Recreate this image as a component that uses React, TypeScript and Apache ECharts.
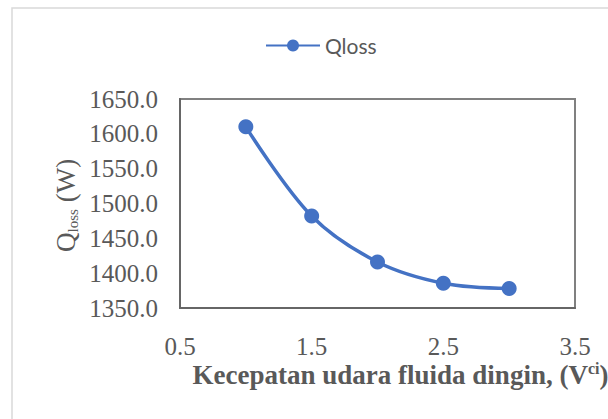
import React, { useEffect, useRef } from "react";
import * as echarts from "echarts";

const velocities = [1, 1.5, 2, 2.5, 3];
const qLoss = [1610, 1482, 1416, 1385.5, 1378];
const xTickLabels = [0.5, 1.5, 2.5, 3.5];
const seriesName = "Qloss";
const yTitleMain = "Q";
const yTitleSub = "loss";
const yTitleUnit = " (W)";

export default function App() {
  const ref = useRef<HTMLDivElement>(null);
  useEffect(() => {
    document.body.style.margin = "0";
    document.body.style.overflow = "hidden";
    document.documentElement.style.overflow = "hidden";
    const chart = echarts.init(ref.current!, null, { renderer: "svg" });
    const data = velocities.map((v, i) => [v, qLoss[i]]);
    const serif = "Liberation Serif";
    const grey = "#595959";
    chart.setOption({
      animation: false,
      backgroundColor: "#ffffff",
      graphic: [
        {
          type: "rect",
          shape: { x: 12, y: 8, width: 800, height: 600 },
          style: { fill: "none", stroke: "#d9d9d9", lineWidth: 1.5 },
          silent: true,
          z: -1,
        },
        {
          type: "group",
          x: 79,
          y: 252,
          rotation: Math.PI / 2,
          silent: true,
          children: [
            {
              type: "text",
              x: 0,
              y: 0,
              style: { text: yTitleMain, fontFamily: serif, fontSize: 27, fill: grey, align: "left", verticalAlign: "bottom" },
            },
            {
              type: "text",
              x: 19.5,
              y: 1.5,
              style: { text: yTitleSub, fontFamily: serif, fontSize: 15, fill: grey, align: "left", verticalAlign: "bottom" },
            },
            {
              type: "text",
              x: 43,
              y: 0,
              style: { text: yTitleUnit, fontFamily: serif, fontSize: 27, fill: grey, align: "left", verticalAlign: "bottom" },
            },
          ],
        },
      ],
      legend: {
        data: [seriesName],
        left: 265,
        top: 35,
        padding: 0,
        itemWidth: 54,
        itemHeight: 15,
        itemGap: 5,
        textStyle: { fontFamily: "Lato", fontSize: 21, color: grey },
      },
      grid: {
        left: 180,
        right: 33,
        top: 99,
        bottom: 111,
        show: true,
        borderColor: "#808080",
        borderWidth: 2,
        containLabel: false,
        outerBoundsMode: "none",
      },
      xAxis: {
        type: "value",
        min: 0.5,
        max: 3.5,
        interval: 0.5,
        axisLine: { show: true, lineStyle: { color: "#666666", width: 2 } },
        axisTick: { show: false },
        splitLine: { show: false },
        axisLabel: {
          customValues: xTickLabels,
          fontFamily: serif,
          fontSize: 25,
          color: grey,
          margin: 26,
          formatter: (v: number) => v.toFixed(1),
        },
        name: "{m|Kecepatan udara fluida dingin, (V}{s|ci}{m|)}",
        nameLocation: "middle",
        nameGap: 52,
        nameTextStyle: {
          fontFamily: serif,
          fontWeight: "bold",
          fontSize: 27,
          color: grey,
          padding: [0, 0, 0, 46],
          rich: {
            m: { fontFamily: serif, fontWeight: "bold", fontSize: 27, color: grey, lineHeight: 30 },
            s: { fontFamily: serif, fontWeight: "bold", fontSize: 16, color: grey, verticalAlign: "top", lineHeight: 30 },
          },
        },
      },
      yAxis: {
        type: "value",
        min: 1350,
        max: 1650,
        interval: 50,
        axisLine: { show: true, lineStyle: { color: "#666666", width: 2 } },
        axisTick: { show: false },
        splitLine: { show: false },
        axisLabel: {
          fontFamily: serif,
          fontSize: 25,
          color: grey,
          margin: 22,
          formatter: (v: number) => v.toFixed(1),
        },
      },
      series: [
        {
          name: seriesName,
          type: "line",
          data,
          smooth: 0.35,
          symbol: "circle",
          symbolSize: 15,
          lineStyle: { color: "#4472C4", width: 3.5 },
          itemStyle: { color: "#4472C4" },
        },
      ],
    });
    return () => chart.dispose();
  }, []);
  return <div ref={ref} style={{ width: 608, height: 419, position: "absolute", left: 0, top: 0, overflow: "hidden" }} />;
}
